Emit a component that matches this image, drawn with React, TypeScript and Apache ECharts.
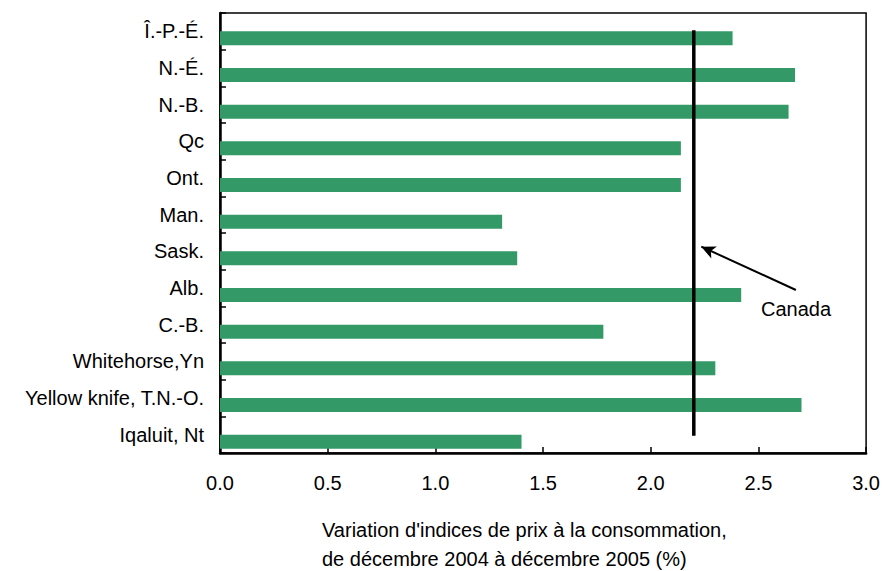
import React, { useEffect, useRef } from "react";
import * as echarts from "echarts";

const categories = [
  "Î.-P.-É.",
  "N.-É.",
  "N.-B.",
  "Qc",
  "Ont.",
  "Man.",
  "Sask.",
  "Alb.",
  "C.-B.",
  "Whitehorse,Yn",
  "Yellow knife, T.N.-O.",
  "Iqaluit, Nt",
];
const values = [2.38, 2.67, 2.64, 2.14, 2.14, 1.31, 1.38, 2.42, 1.78, 2.3, 2.7, 1.4];
const canadaValue = 2.2;
const xTicks = { min: 0, max: 3, interval: 0.5 };
const axisTitleLines = [
  "Variation d'indices de prix à la consommation,",
  "de décembre 2004 à décembre 2005 (%)",
];
const canadaLabel = "Canada";

const FONT = "'Liberation Sans', Arial, sans-serif";

export default function App() {
  const ref = useRef<HTMLDivElement>(null);
  useEffect(() => {
    if (!ref.current) return;
    const chart = echarts.init(ref.current, null, { renderer: "svg" });
    chart.setOption({
      animation: false,
      backgroundColor: "#ffffff",
      textStyle: { fontFamily: FONT },
      grid: {
        left: 220,
        right: 16,
        top: 13,
        bottom: 118,
        show: true,
        borderColor: "#000",
        borderWidth: 1.5,
        backgroundColor: "transparent",
      },
      xAxis: [
        {
          type: "value",
          min: xTicks.min,
          max: xTicks.max,
          interval: xTicks.interval,
          axisLine: { show: true, lineStyle: { color: "#000", width: 2.5 } },
          axisTick: { show: true, inside: true, length: 6, lineStyle: { color: "#000", width: 1.5 } },
          splitLine: { show: false },
          axisLabel: {
            margin: 20,
            fontSize: 20,
            color: "#000",
            fontFamily: FONT,
            formatter: (v: number) => v.toFixed(1),
          },
        },
      ],
      yAxis: [
        {
          type: "category",
          data: categories,
          inverse: true,
          axisLine: { show: true, lineStyle: { color: "#000", width: 2.5 } },
          axisTick: { show: true, inside: true, length: 6, lineStyle: { color: "#000", width: 1.5 } },
          axisLabel: { margin: 16, fontSize: 20, color: "#000", fontFamily: FONT },
        },
        {
          type: "value",
          min: 0,
          max: 1,
          show: false,
        },
      ],
      series: [
        {
          type: "bar",
          data: values.map(() => "-"),
          barWidth: 14,
          barGap: "0%",
          itemStyle: { color: "transparent" },
        },
        {
          type: "bar",
          data: values,
          barWidth: 14,
          barGap: "0%",
          itemStyle: { color: "#339966" },
        },
        {
          type: "line",
          yAxisIndex: 1,
          data: [
            [canadaValue, 0.039],
            [canadaValue, 0.961],
          ],
          symbol: "none",
          lineStyle: { color: "#000", width: 3.5 },
          markLine: {
            silent: true,
            symbol: ["none", "arrow"],
            symbolSize: [10, 14],
            label: { show: false },
            lineStyle: { color: "#000", width: 2, type: "solid" },
            data: [
              [
                { coord: [2.674, 0.3705] },
                { coord: [2.235, 0.469] },
              ],
            ],
          },
        },
      ],
      graphic: [
        {
          type: "text",
          left: 761,
          top: 299,
          style: { text: canadaLabel, fill: "#000", font: `20px ${FONT}` },
        },
        {
          type: "text",
          left: 322,
          top: 515,
          style: {
            text: axisTitleLines.join("\n"),
            font: `20px ${FONT}`,
            fill: "#000",
            lineHeight: 29,
          },
        },
      ],
    });
    return () => chart.dispose();
  }, []);
  return (
    <div
      ref={ref}
      style={{ position: "fixed", left: 0, top: 0, width: 883, height: 571 }}
    />
  );
}
